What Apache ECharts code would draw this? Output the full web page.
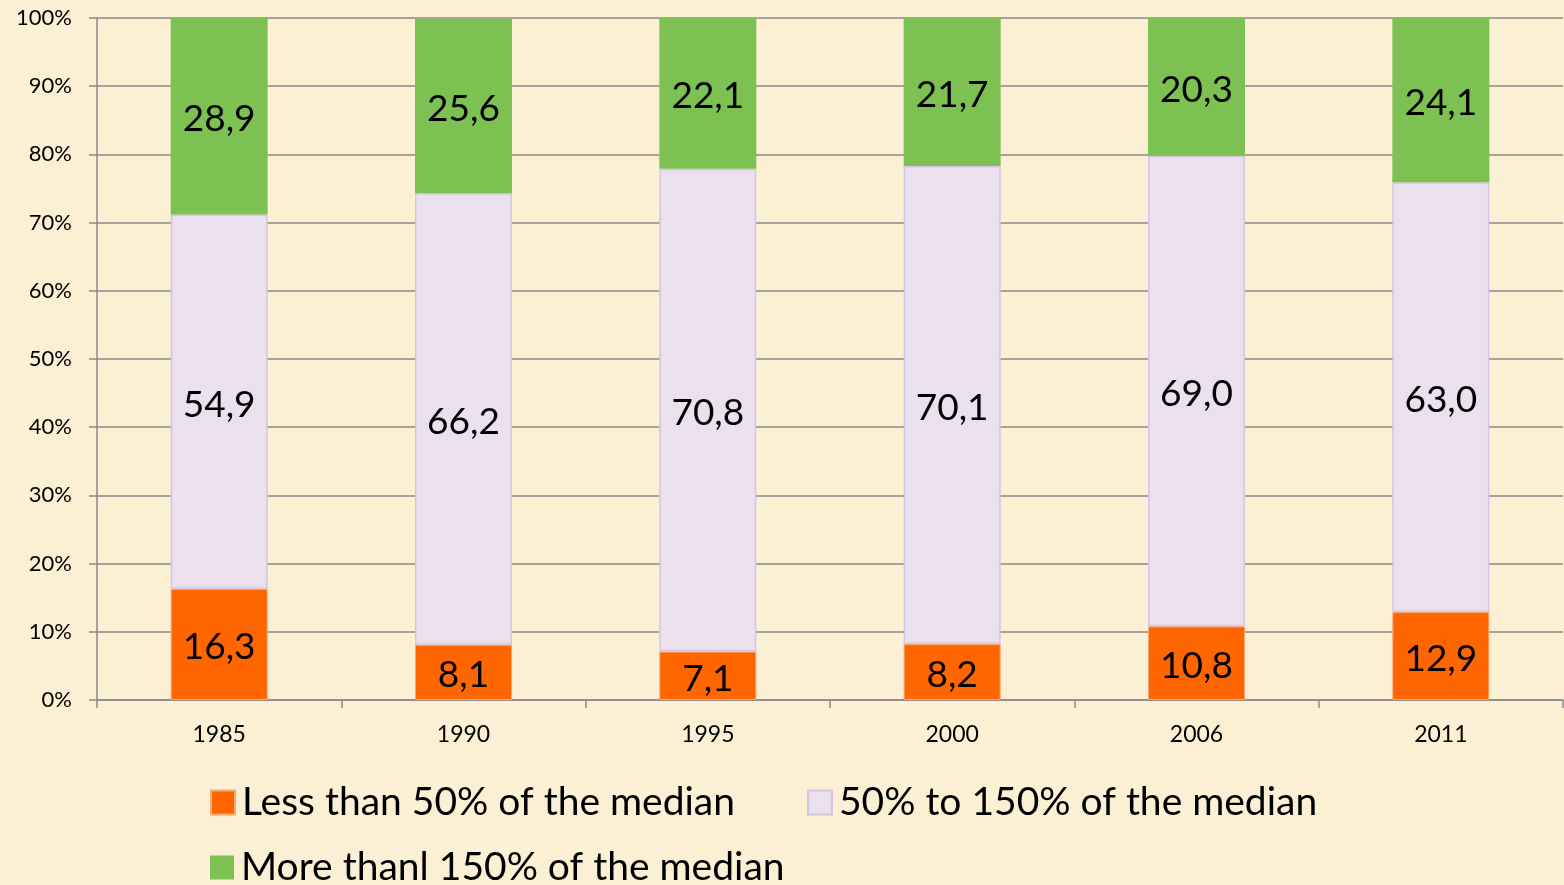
<!DOCTYPE html>
<html>
<head>
<meta charset="utf-8">
<script src="https://cdn.jsdelivr.net/npm/echarts@6/dist/echarts.min.js"></script>
<style>
html,body{margin:0;padding:0;background:#FBF0D4;}
#chart{width:1564px;height:885px;}
</style>
</head>
<body>
<div id="chart"></div>
<script>
var categories = ['1985', '1990', '1995', '2000', '2006', '2011'];
var seriesNames = ['Less than 50% of the median', '50% to 150% of the median', 'More thanl 150% of the median'];
var lessThan50 = [16.3, 8.1, 7.1, 8.2, 10.8, 12.9];
var between50and150 = [54.9, 66.2, 70.8, 70.1, 69.0, 63.0];
var moreThan150 = [28.9, 25.6, 22.1, 21.7, 20.3, 24.1];
var yTickLabels = ['0%', '10%', '20%', '30%', '40%', '50%', '60%', '70%', '80%', '90%', '100%'];

var FONT = 'Lato';
var chart = echarts.init(document.getElementById('chart'));
function lbl() {
  return {
    show: true,
    position: 'inside',
    offset: [0, 3],
    color: '#000',
    fontFamily: FONT,
    fontSize: 37,
    formatter: function (p) { return p.value.toFixed(1).replace('.', ','); }
  };
}
var option = {
  backgroundColor: '#FBF0D4',
  animation: false,
  grid: { left: 97, right: 1, top: 18, bottom: 185 },
  legend: [
    {
      data: [seriesNames[0], seriesNames[1]],
      left: 205, top: 778,
      itemWidth: 24, itemHeight: 24, itemGap: 72,
      icon: 'rect',
      textStyle: { fontFamily: FONT, fontSize: 39, color: '#000', padding: [0, 0, 0, 2] }
    },
    {
      data: [seriesNames[2]],
      left: 205, top: 843,
      itemWidth: 24, itemHeight: 24,
      icon: 'rect',
      textStyle: { fontFamily: FONT, fontSize: 39, color: '#000', padding: [0, 0, 0, 2] }
    }
  ],
  xAxis: {
    type: 'category',
    data: categories,
    axisLine: { lineStyle: { color: '#8a8a8a', width: 1.5 } },
    axisTick: { show: true, length: 8, lineStyle: { color: '#8a8a8a', width: 1.5 } },
    axisLabel: { fontFamily: FONT, fontSize: 23, color: '#000', margin: 23 }
  },
  yAxis: {
    type: 'value',
    min: 0, max: 100, interval: 10,
    axisLine: { show: true, lineStyle: { color: '#8a8a8a', width: 1.5 } },
    axisTick: { show: true, length: 8, lineStyle: { color: '#8a8a8a', width: 1.5 } },
    splitLine: { lineStyle: { color: '#8a8a8a', width: 1.5 } },
    axisLabel: {
      fontFamily: FONT, fontSize: 22, color: '#000', margin: 25,
      formatter: function (v) { return yTickLabels[Math.round(v / 10)]; }
    }
  },
  series: [
    {
      name: seriesNames[0], type: 'bar', stack: 'total', barWidth: 97,
      data: lessThan50,
      itemStyle: { color: '#FF6600', borderColor: '#F7A872', borderWidth: 1 },
      label: lbl()
    },
    {
      name: seriesNames[1], type: 'bar', stack: 'total', barWidth: 97,
      data: between50and150,
      itemStyle: { color: '#EBE0EE', borderColor: '#D6C4E2', borderWidth: 1.5 },
      label: lbl()
    },
    {
      name: seriesNames[2], type: 'bar', stack: 'total', barWidth: 97,
      data: moreThan150,
      itemStyle: { color: '#7DC152' },
      label: lbl()
    }
  ]
};
chart.setOption(option);
</script>
</body>
</html>
